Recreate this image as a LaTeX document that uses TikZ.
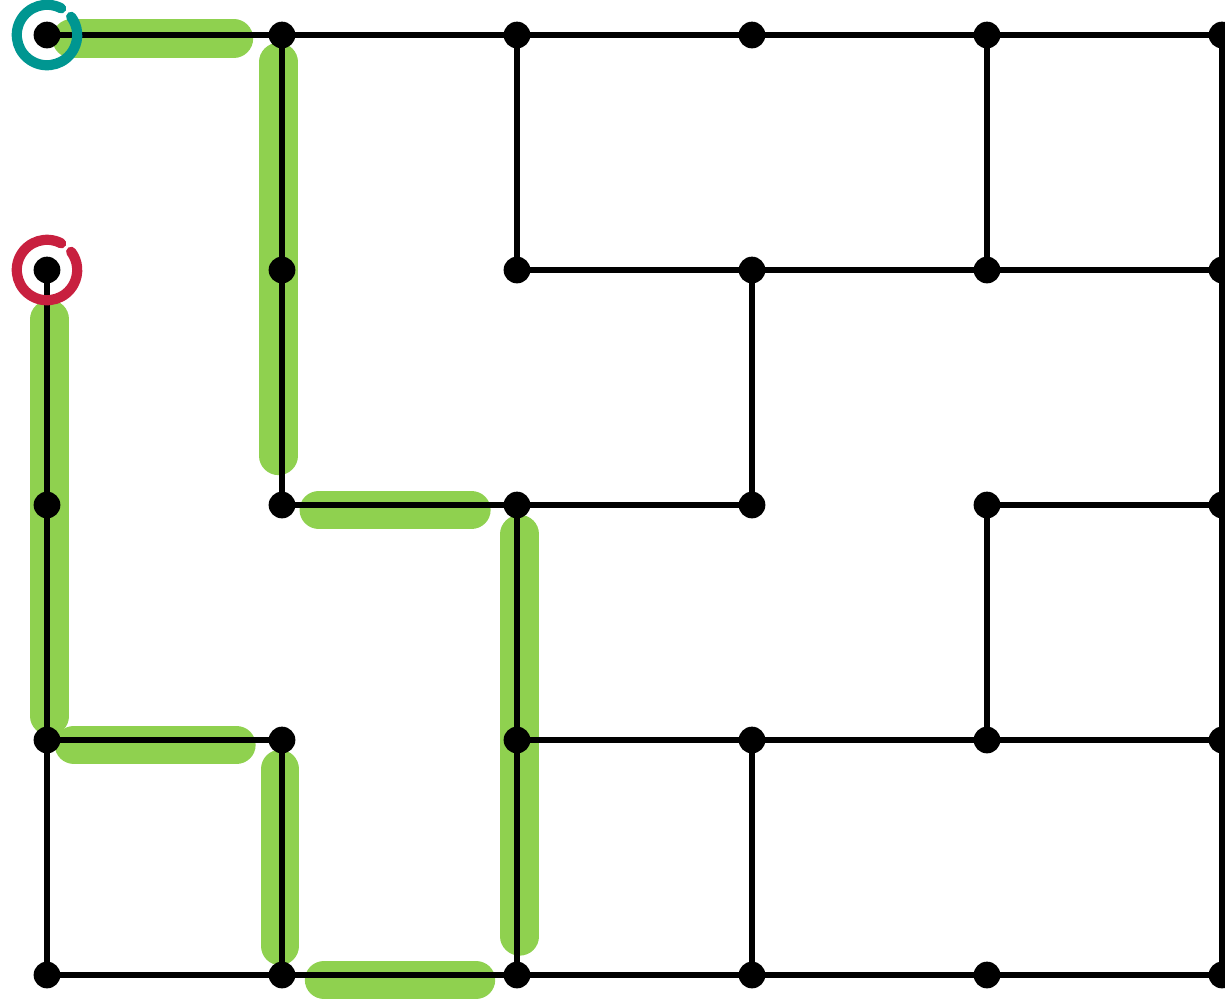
\documentclass[tikz,border=0pt]{standalone}
\definecolor{leaf}{RGB}{143,209,79}
\definecolor{sea}{RGB}{0,150,145}
\definecolor{wine}{RGB}{200,32,63}
\begin{document}
\begin{tikzpicture}[x=2.35cm, y=2.35cm, line join=round, line cap=round,
    wall/.style={line width=1.6pt},
    trail/.style={line width=11pt, leaf},
    ring/.style={line width=2.9pt}]
	\useasboundingbox (-0.2,-0.102) rectangle (5.0128,4.149);
	\foreach \i in {0,...,5} \foreach \j in {0,...,4} \coordinate (v\i\j) at (\i,\j);
	% the way through
	\draw[trail, shorten <=7pt, shorten >=13.7pt, transform canvas={yshift=-1pt}] (v04) -- (v14);
	\draw[trail, shorten <=7.7pt, shorten >=14pt, transform canvas={xshift=-1pt}] (v14) -- (v12);
	\draw[trail, shorten <=10.5pt, shorten >=13pt, transform canvas={yshift=-1.4pt}] (v12) -- (v22);
	\draw[trail, shorten <=8.3pt, shorten >=11pt, transform canvas={xshift=0.8pt}] (v22) -- (v20);
	\draw[trail, shorten <=11.7pt, shorten >=12pt, transform canvas={yshift=-1.4pt}] (v20) -- (v10);
	\draw[trail, shorten <=8.3pt, shorten >=8.3pt, transform canvas={xshift=-0.6pt}] (v10) -- (v11);
	\draw[trail, shorten <=13pt, shorten >=7.7pt, transform canvas={yshift=-1.4pt}] (v11) -- (v01);
	\draw[trail, shorten <=6.8pt, shorten >=14pt, transform canvas={xshift=0.8pt}] (v01) -- (v03);
	% walls
	\foreach \a/\b in {v04/v54, v23/v53, v12/v32, v42/v52, v01/v11, v21/v51, v00/v50,
	    v03/v00, v14/v12, v11/v10, v24/v23, v22/v20, v33/v32, v31/v30, v44/v43, v42/v41, v54/v50}
		\draw[wall] (\a) -- (\b);
	\foreach \i in {0,...,5} \foreach \j in {0,...,4} \fill (v\i\j) circle (3.8pt);
	% start and end
	\draw[ring, sea] ([shift={(62:8.6pt)}]v04) arc[start angle=62, end angle=397, radius=8.6pt];
	\draw[ring, wine] ([shift={(62:8.6pt)}]v03) arc[start angle=62, end angle=397, radius=8.6pt];
\end{tikzpicture}
\end{document}
